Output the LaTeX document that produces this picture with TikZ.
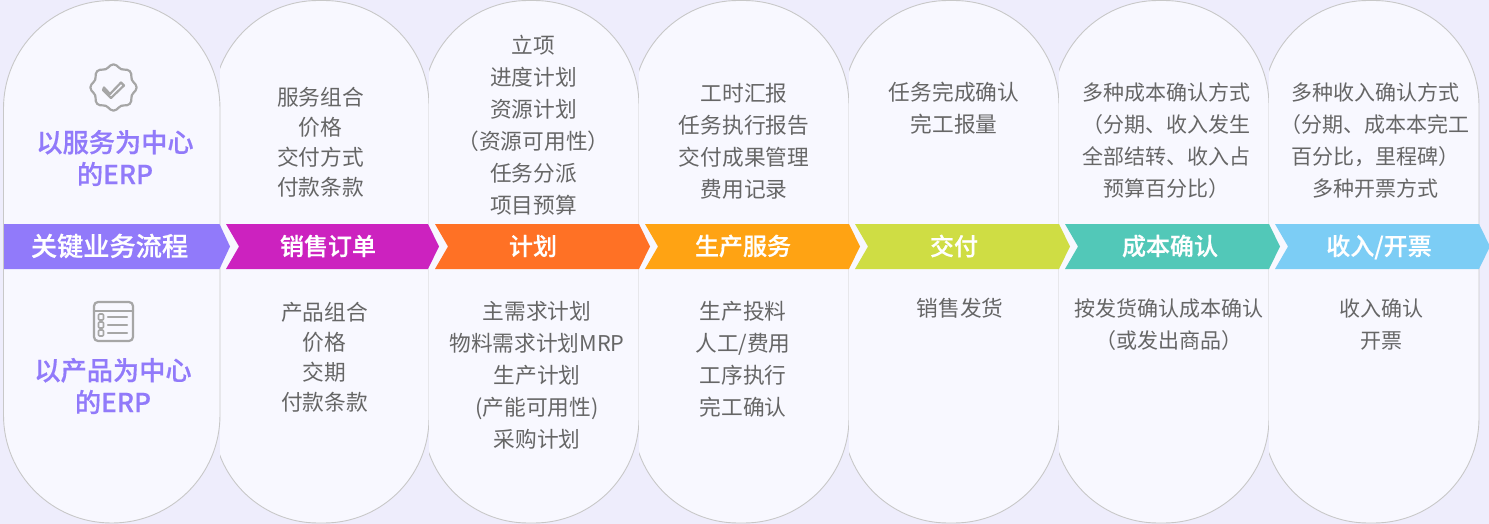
\documentclass[tikz,border=0pt]{standalone}
\usepackage{fontspec}
\setmainfont{Noto Sans CJK SC}[BoldFont={Noto Sans CJK SC Medium},BoldFeatures={FakeBold=0.5}]
\definecolor{pagebg}{HTML}{EEEDFC}
\definecolor{capfill}{HTML}{F8F8FF}
\definecolor{capline}{HTML}{C8C8C8}
\definecolor{txtgrey}{HTML}{666666}
\definecolor{iconc}{HTML}{A6A6A6}
\definecolor{purp}{HTML}{917AFA}
\tikzset{
  capsule/.style={draw=capline,fill=capfill,line width=0.9pt},
  body/.style={inner sep=0pt,text=txtgrey,align=center,font=\fontsize{21.7}{32}\selectfont},
  bodysmall/.style={body,font=\fontsize{21}{32}\selectfont},
  bodytight/.style={body,font=\fontsize{21.7}{30}\selectfont},
  head/.style={inner sep=0pt,text=white,font=\fontsize{24}{28}\selectfont\bfseries},
  focus/.style={inner sep=0pt,text=purp,align=center,font=\fontsize{26.2}{32}\selectfont\bfseries},
  iconline/.style={draw=iconc,line width=2.2pt,line cap=round,line join=round}
}
\begin{document}
\begin{tikzpicture}[x=1pt,y=-1pt]
\useasboundingbox (0,0) rectangle (1489,524);
\fill[pagebg] (0,0) rectangle (1489,524);
% columns, each clipped by its left neighbour
\foreach \r/\lft in {429/220,639/429,849/639,1059/849,1269/1059,1479/1269}{
  \begin{scope}
    \clip (\lft,0) rectangle (1489,524);
    \draw[capsule,rounded corners=105pt] (\r-210-6,0.5) rectangle (\r,523);
  \end{scope}
}
\draw[capsule,rounded corners=108pt] (3.5,0.5) rectangle (220,523);
% chevrons
\fill[purp] (4,224) -- (219.5,224) -- (230,246.5) -- (219.5,269) -- (4,269) -- cycle;
\foreach \s/\e/\c in {226/428/CC22BF,435/639/FF7125,645/849/FFA313,855/1059/CFDD44,1065/1269/52C8B8,1275/1479/7CCDF5}{
  \definecolor{cc}{HTML}{\c}
  \fill[cc] (\s,224) -- (\e,224) -- (\e+11,246.5) -- (\e,269) -- (\s,269) -- (\s+13,246.5) -- cycle;
}
% band labels
\node[head,font=\fontsize{26.2}{28}\selectfont\bfseries] (h1) at (109.5,246) {关键业务流程};
\node[head] (h2) at (328,246) {销售订单};
\node[head] (h3) at (533,246) {计划};
\node[head] (h4) at (743,246) {生产服务};
\node[head] (h5) at (954,246) {交付};
\node[head] (h6) at (1170,246) {成本确认};
\node[head] (h7) at (1379,247) {收入/开票};
% left column
\node[focus] (f1) at (115,158) {以服务为中心\\的ERP};
\node[focus] (f2) at (113,386) {以产品为中心\\的ERP};
% badge icon
\draw[iconline] plot[smooth cycle,samples=48,domain=0:352.5,variable=\t] ({113.5+(21.5+1.6*cos(8*\t))*cos(\t)},{87.5+(21.5+1.6*cos(8*\t))*sin(\t)});
\draw[iconline] (104,87.5) -- (110,94) -- (121,82.5) -- (124,85.5) -- (111,98) -- (103,90) -- cycle;
% list icon
\draw[iconline,rounded corners=4pt] (94,302) rectangle (133,341);
\draw[iconline] (94,311) -- (133,311);
\foreach \yy in {317,325,333}{
  \draw[iconline,line width=1.6pt,rounded corners=1pt] (98.5,\yy-3) rectangle (103.5,\yy+3);
  \draw[iconline] (108,\yy) -- (127,\yy);
}
% top texts
\node[bodytight] (t2) at (320.5,142.5) {服务组合\\价格\\交付方式\\付款条款};
\node[body] (t3) at (533.5,125) {立项\\进度计划\\资源计划\\（资源可用性）\\任务分派\\项目预算};
\node[body] (t4) at (744,141) {工时汇报\\任务执行报告\\交付成果管理\\费用记录};
\node[body] (t5) at (954,108) {任务完成确认\\完工报量};
\node[bodysmall] (t6) at (1166.5,140.5) {多种成本确认方式\\（分期、收入发生\\全部结转、收入占\\预算百分比）};
\node[bodysmall] (t7) at (1375,140.5) {多种收入确认方式\\（分期、成本本完工\\百分比，里程碑）\\多种开票方式};
% bottom texts
\node[bodytight] (b2) at (324.5,357) {产品组合\\价格\\交期\\付款条款};
\node[body] (b3) at (537,375.5) {主需求计划\\物料需求计划MRP\\生产计划\\(产能可用性)\\采购计划};
\node[body] (b4) at (743,359) {生产投料\\人工/费用\\工序执行\\完工确认};
\node[body] (b5) at (960,308) {销售发货};
\node[bodysmall] (b6) at (1169,324.5) {按发货确认成本确认\\（或发出商品）};
\node[bodysmall] (b7) at (1381,325) {收入确认\\开票};
\end{tikzpicture}
\end{document}
